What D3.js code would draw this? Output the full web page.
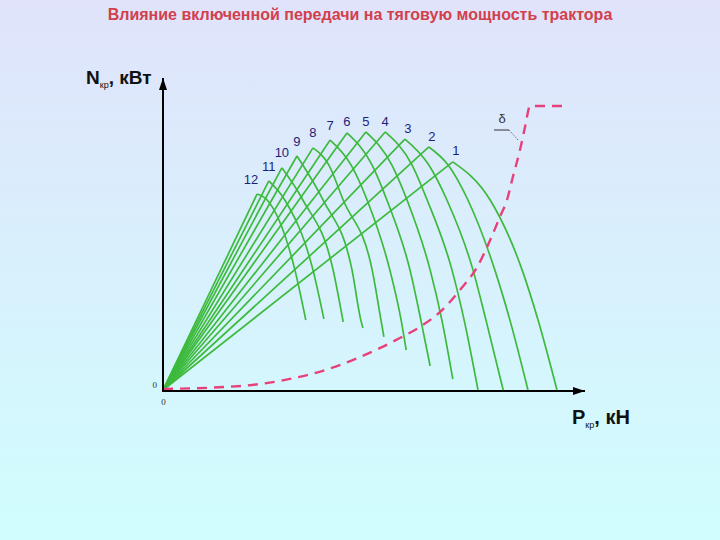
<!DOCTYPE html>
<html>
<head>
<meta charset="utf-8">
<script src="https://cdn.jsdelivr.net/npm/d3@7"></script>
<style>
  html, body { margin: 0; padding: 0; overflow: hidden; }
  svg { display: block; font-family: "Liberation Sans", Arial, sans-serif; }
</style>
</head>
<body>
<svg id="chart" width="720" height="540"></svg>
<script>
// Gear numbers, from the highest traction power (gear 1 sits right, lowest) onward.
const gearLabels = ['1', '2', '3', '4', '5', '6', '7', '8', '9', '10', '11', '12'];

// Peak of each gear curve: [P, N]
const gearPeaks = [
  [69.0, 73.1], [63.3, 77.9], [57.6, 80.4], [52.9, 82.7], [48.3, 82.7], [43.8, 82.4],
  [39.8, 80.1], [35.7, 77.6], [31.9, 75.0], [28.3, 71.2], [25.2, 67.0], [22.4, 62.8]
];

// Falling branch of each gear curve after its peak: [P, N]
const gearFalls = [
  [[77.9, 60.9], [85.5, 38.5], [89.3, 22.4], [93.8, 0]],
  [[67.9, 72.1], [72.6, 60.9], [79.0, 38.5], [82.6, 22.4], [86.9, 0]],
  [[63.3, 72.1], [67.6, 60.9], [73.8, 38.5], [76.9, 22.4], [81.0, 0]],
  [[59.3, 72.1], [62.9, 60.9], [68.8, 38.5], [71.7, 22.4], [75.0, 0]],
  [[54.5, 72.1], [58.1, 60.9], [63.6, 38.5], [66.4, 22.4], [69.0, 3.5]],
  [[49.8, 72.1], [53.3, 60.9], [58.8, 38.5], [61.4, 22.4], [63.6, 7.7]],
  [[44.8, 72.1], [48.6, 60.9], [54.0, 38.5], [56.7, 22.4], [57.9, 12.8]],
  [[39.5, 72.1], [42.9, 60.9], [49.8, 38.5], [51.9, 22.4], [52.6, 17.0]],
  [[38.1, 60.9], [45.0, 38.5], [47.1, 22.4], [47.6, 19.9]],
  [[33.3, 60.9], [40.5, 38.5], [42.9, 21.8]],
  [[29.0, 60.9], [35.7, 38.5], [38.3, 22.8]],
  [[24.8, 60.9], [31.4, 38.5], [34.0, 22.4]]
];

// Slip curve δ: [P, δ %]
const slipCurve = [
  [0, 0.4], [15.2, 1.1], [23.1, 2.1], [30.2, 3.9], [38.6, 7.0], [46.9, 11.6],
  [56.4, 18.3], [61.9, 22.9], [66.0, 27.5], [70.7, 35.2], [74.8, 43.3], [77.9, 52.8],
  [80.2, 60.9], [81.9, 66.9], [83.3, 75.0], [85.0, 84.5], [86.2, 92.6], [87.4, 100],
  [95.2, 100]
];

const titleText = 'Влияние включенной передачи на тяговую мощность трактора';

const svg = d3.select('#chart');

// background: lavender at the top fading to pale cyan
const defs = svg.append('defs');
const bg = defs.append('linearGradient')
    .attr('id', 'bg')
    .attr('x1', 0).attr('y1', 0).attr('x2', 0).attr('y2', 1);
bg.append('stop').attr('offset', '0%').attr('stop-color', '#e0e3fb');
bg.append('stop').attr('offset', '100%').attr('stop-color', '#d0fefe');

defs.append('marker')
    .attr('id', 'arrow')
    .attr('viewBox', '0 0 12 8')
    .attr('refX', 12).attr('refY', 4)
    .attr('markerWidth', 12).attr('markerHeight', 8)
    .attr('markerUnits', 'userSpaceOnUse')
    .attr('orient', 'auto')
  .append('path')
    .attr('d', 'M0,0 L12,4 L0,8 Z')
    .attr('fill', '#000');

svg.append('rect')
    .attr('width', 720).attr('height', 540)
    .attr('fill', 'url(#bg)');

svg.append('text')
    .attr('x', 360).attr('y', 20)
    .attr('text-anchor', 'middle')
    .attr('font-size', '16px')
    .attr('font-weight', 'bold')
    .attr('fill', '#d2404c')
    .text(titleText);

const x = d3.scaleLinear().domain([0, 100]).range([163, 583]);
const y = d3.scaleLinear().domain([0, 100]).range([390, 78]);
const ySlip = d3.scaleLinear().domain([0, 100]).range([390, 106]);

// Gear curves: a straight rise from the origin, then the falling branch.
const g = svg.append('g')
    .attr('fill', 'none')
    .attr('stroke', '#3dba3d')
    .attr('stroke-width', 1.7);

const rise = d3.line().x(d => x(d[0])).y(d => y(d[1]));
const fall = d3.line().x(d => x(d[0])).y(d => y(d[1])).curve(d3.curveMonotoneX);

gearPeaks.forEach((p, i) => {
  g.append('path').attr('d', rise([[0, 0], p]));
  g.append('path').attr('d', fall([p, ...gearFalls[i]]));
});

// Gear numbers above each peak
svg.append('g')
    .attr('font-size', '13px')
    .attr('fill', '#1e1e78')
    .attr('text-anchor', 'middle')
  .selectAll('text')
  .data(gearLabels)
  .join('text')
    .attr('x', (d, i) => x(gearPeaks[i][0]) + (i < 3 ? 3 : (i === 11 ? -6 : 0)))
    .attr('y', (d, i) => y(gearPeaks[i][1]) - (i < 6 ? 11 : 15))
    .attr('dy', '0.35em')
    .text(d => d);

// Slip curve
svg.append('path')
    .datum(slipCurve)
    .attr('fill', 'none')
    .attr('stroke', '#e8407a')
    .attr('stroke-width', 2.4)
    .attr('stroke-dasharray', '10,7')
    .attr('d', d3.line().x(d => x(d[0])).y(d => ySlip(d[1])).curve(d3.curveMonotoneX));

// δ label with leader
svg.append('text')
    .attr('x', 502).attr('y', 123)
    .attr('text-anchor', 'middle')
    .attr('font-size', '13px')
    .attr('fill', '#333')
    .text('δ');
svg.append('path')
    .attr('d', 'M494,130 L509,130')
    .attr('stroke', '#333').attr('stroke-width', 1).attr('fill', 'none');
svg.append('path')
    .attr('d', 'M509,130 L519,141')
    .attr('stroke', '#666').attr('stroke-width', 1)
    .attr('stroke-dasharray', '1.5,1.5').attr('fill', 'none');

// Axes: zero labels from d3 axes, the lines themselves end in arrows
const xAxis = svg.append('g')
    .attr('transform', `translate(0,${y(0)})`)
    .call(d3.axisBottom(x).tickValues([0]).tickSize(0).tickPadding(9));
const yAxis = svg.append('g')
    .attr('transform', `translate(${x(0)},0)`)
    .call(d3.axisLeft(y).tickValues([0]).tickSize(0).tickPadding(6));
[xAxis, yAxis].forEach(a => {
  a.select('.domain').remove();
  a.selectAll('text').attr('font-size', '9px').attr('fill', '#333')
    .attr('font-family', '"Liberation Serif", serif');
});
yAxis.select('text').attr('transform', 'translate(0,-5)');

svg.append('line')
    .attr('x1', x(0)).attr('y1', y(0) + 1)
    .attr('x2', x(0)).attr('y2', 78)
    .attr('stroke', '#000').attr('stroke-width', 2)
    .attr('marker-end', 'url(#arrow)');
svg.append('line')
    .attr('x1', x(0) - 1).attr('y1', y(0) + 1)
    .attr('x2', 585).attr('y2', y(0) + 1)
    .attr('stroke', '#000').attr('stroke-width', 2)
    .attr('marker-end', 'url(#arrow)');

// Axis titles
const yTitle = svg.append('text')
    .attr('x', 86).attr('y', 84)
    .attr('font-weight', 'bold')
    .attr('fill', '#111');
yTitle.append('tspan').attr('font-size', '19px').text('N');
yTitle.append('tspan').attr('font-size', '9px').attr('font-weight', 'normal').attr('dy', 4).text('кр');
yTitle.append('tspan').attr('font-size', '19px').attr('dy', -4).text(', кВт');

const xTitle = svg.append('text')
    .attr('x', 572).attr('y', 424)
    .attr('font-weight', 'bold')
    .attr('fill', '#111');
xTitle.append('tspan').attr('font-size', '20px').text('P');
xTitle.append('tspan').attr('font-size', '9px').attr('font-weight', 'normal').attr('dy', 4).text('кр');
xTitle.append('tspan').attr('font-size', '20px').attr('dy', -4).text(', кН');
</script>
</body>
</html>
